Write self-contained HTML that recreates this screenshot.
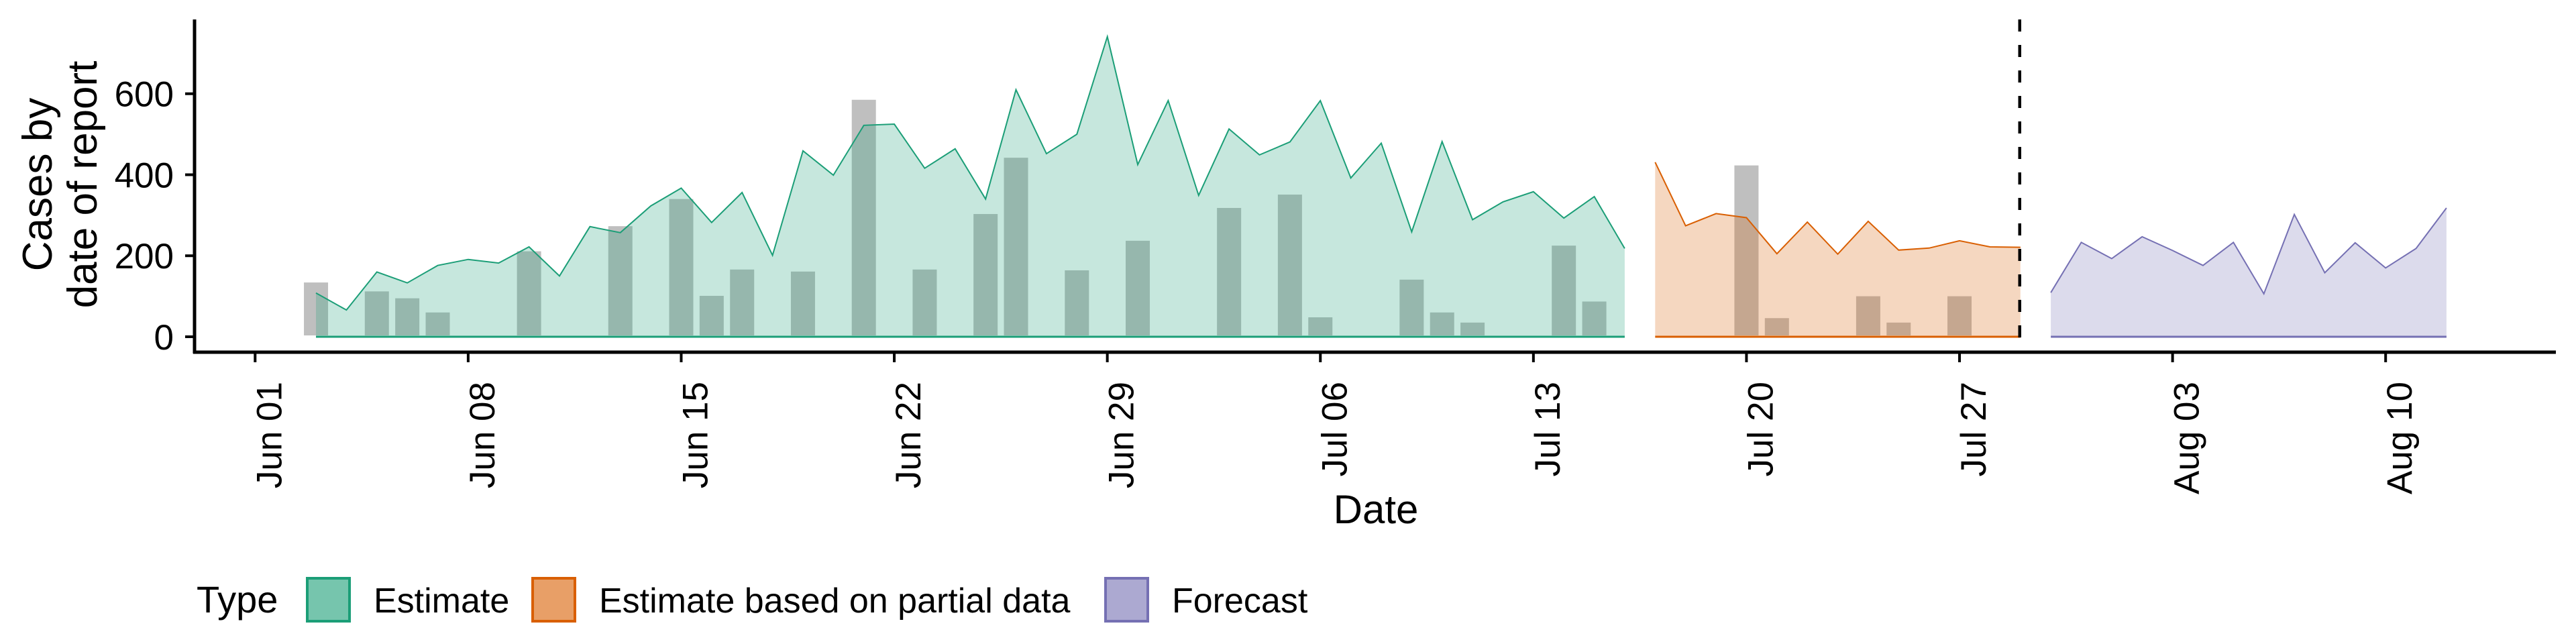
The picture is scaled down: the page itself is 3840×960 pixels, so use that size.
<!DOCTYPE html>
<html><head><meta charset="utf-8"><style>
html,body{margin:0;padding:0;background:#fff;}
svg{display:block;font-family:"Liberation Sans",Arial,sans-serif;}
</style></head><body>
<svg id="chart" width="3840" height="960" viewBox="0 0 3840 960" xmlns="http://www.w3.org/2000/svg">
<g id="bars"></g>
<g id="areas"></g>
<g id="axes"></g>
</svg>
<script>
const reportedStart = 2;
const reported = [134,0,112,95,60,0,0,211,0,0,273,0,340,101,166,0,161,0,585,0,166,0,303,442,0,164,3,237,2,0,318,0,351,48,0,0,141,60,35,0,0,225,87,0,3,0,0,423,46,0,0,100,35,0,100,0,0];
const estimateStart = 2;
const estimate = [108,66,160,133,176,191,182,222,150,272,257,323,367,282,356,201,459,399,522,525,416,464,340,610,452,500,741,425,583,349,513,449,481,583,392,478,259,482,289,333,358,293,346,218];
const partialStart = 46;
const partial = [431,274,304,294,205,283,204,285,214,219,237,222,221];
const forecastStart = 59;
const forecast = [109,233,193,247,213,176,233,106,302,158,232,170,218,318];
const yTicks = [0,200,400,600];
const xTickDays = [0,7,14,21,28,35,42,49,56,63,70];
const xTickLabels = ["Jun 01","Jun 08","Jun 15","Jun 22","Jun 29","Jul 06","Jul 13","Jul 20","Jul 27","Aug 03","Aug 10"];
const forecastBoundaryDay = 58;

const NS = "http://www.w3.org/2000/svg";
const X0 = 380.3, DAY = 45.37, Y0 = 502, PER = 0.6038;
function xs(d){ return X0 + d*DAY; }
function ys(v){ return Y0 - v*PER; }
function mk(tag, attrs, parent){
  const e = document.createElementNS(NS, tag);
  for (const k in attrs) e.setAttribute(k, attrs[k]);
  parent.appendChild(e);
  return e;
}
const barsG = document.getElementById('bars');
reported.forEach((v,i)=>{
  if (v<=0) return;
  const d = reportedStart + i;
  const r = mk('rect', {x: xs(d)-18, y: ys(v), width: 36, height: Y0-2-ys(v), fill:'#7f7f7f', 'fill-opacity':0.5}, barsG);
  
  
});
const areasG = document.getElementById('areas');
function drawArea(start, vals, col, name){
  const pts = vals.map((v,i)=>xs(start+i).toFixed(1)+','+ys(v).toFixed(1));
  const x1 = xs(start), x2 = xs(start+vals.length-1);
  const poly = mk('polygon', {points: x1+','+Y0+' '+pts.join(' ')+' '+x2+','+Y0, fill: col, 'fill-opacity':0.25, stroke:'none'}, areasG);
  
  
  const line = mk('polyline', {points: pts.join(' '), fill:'none', stroke: col, 'stroke-width':2}, areasG);
  
  
  const base = mk('line', {x1:x1, x2:x2, y1:Y0, y2:Y0, stroke: col, 'stroke-width':3}, areasG);
  
  
}
drawArea(estimateStart, estimate, '#1b9e77', 'estimate');
drawArea(partialStart, partial, '#d95f02', 'partial-estimate');
drawArea(forecastStart, forecast, '#7570b3', 'forecast');

const ax = document.getElementById('axes');
const dash = mk('line', {x1: xs(forecastBoundaryDay)-1, x2: xs(forecastBoundaryDay)-1, y1: 29, y2: 525, stroke:'#000', 'stroke-width':4.5, 'stroke-dasharray':'18 20'}, ax);


const ya = mk('line', {x1:290, x2:290, y1:29, y2:527, stroke:'#000', 'stroke-width':5}, ax);


const xa = mk('line', {x1:288, x2:3810, y1:525, y2:525, stroke:'#000', 'stroke-width':5}, ax);


yTicks.forEach(t=>{
  const y = ys(t);
  const tk = mk('line', {x1:276, x2:290, y1:y, y2:y, stroke:'#000', 'stroke-width':4}, ax);
  
  
  const lb = mk('text', {x:259, y:y+19, 'text-anchor':'end', 'font-size':53, fill:'#000'}, ax);
  lb.textContent = t;
  
  
});
xTickDays.forEach((d,i)=>{
  const x = xs(d);
  const tk = mk('line', {x1:x, x2:x, y1:525, y2:540, stroke:'#000', 'stroke-width':4}, ax);
  
  
  const lb = mk('text', {x:0, y:0, 'text-anchor':'end', 'font-size':53, fill:'#000', transform:'translate('+(x+39)+',569) rotate(-90)'}, ax);
  lb.textContent = xTickLabels[i];
  
  
});
const yt = mk('text', {x:0, y:0, 'text-anchor':'middle', 'font-size':62, fill:'#000', transform:'translate(77,275) rotate(-90)'}, ax);
yt.textContent = 'Cases by';


const yt2 = mk('text', {x:0, y:0, 'text-anchor':'middle', 'font-size':62, fill:'#000', transform:'translate(144,275) rotate(-90)'}, ax);
yt2.textContent = 'date of report';


const xt = mk('text', {x:2051, y:780, 'text-anchor':'middle', 'font-size':60, fill:'#000'}, ax);
xt.textContent = 'Date';



// legend
const lt = mk('text', {x:293, y:913, 'font-size':56, fill:'#000'}, ax);
lt.textContent = 'Type';


const legendNames = ['Estimate','Estimate based on partial data','Forecast'];
const legendCols = ['#1b9e77','#d95f02','#7570b3'];
const legendBoxX = [458, 794, 1648];
legendNames.forEach((n,i)=>{
  const r = mk('rect', {x:legendBoxX[i], y:862, width:63, height:64, fill:legendCols[i], 'fill-opacity':0.6, stroke:legendCols[i], 'stroke-width':4}, ax);
  
  
  const t = mk('text', {x:legendBoxX[i]+99, y:913, 'font-size':52, fill:'#000'}, ax);
  t.textContent = n;
  
  
});
</script>
</body></html>
